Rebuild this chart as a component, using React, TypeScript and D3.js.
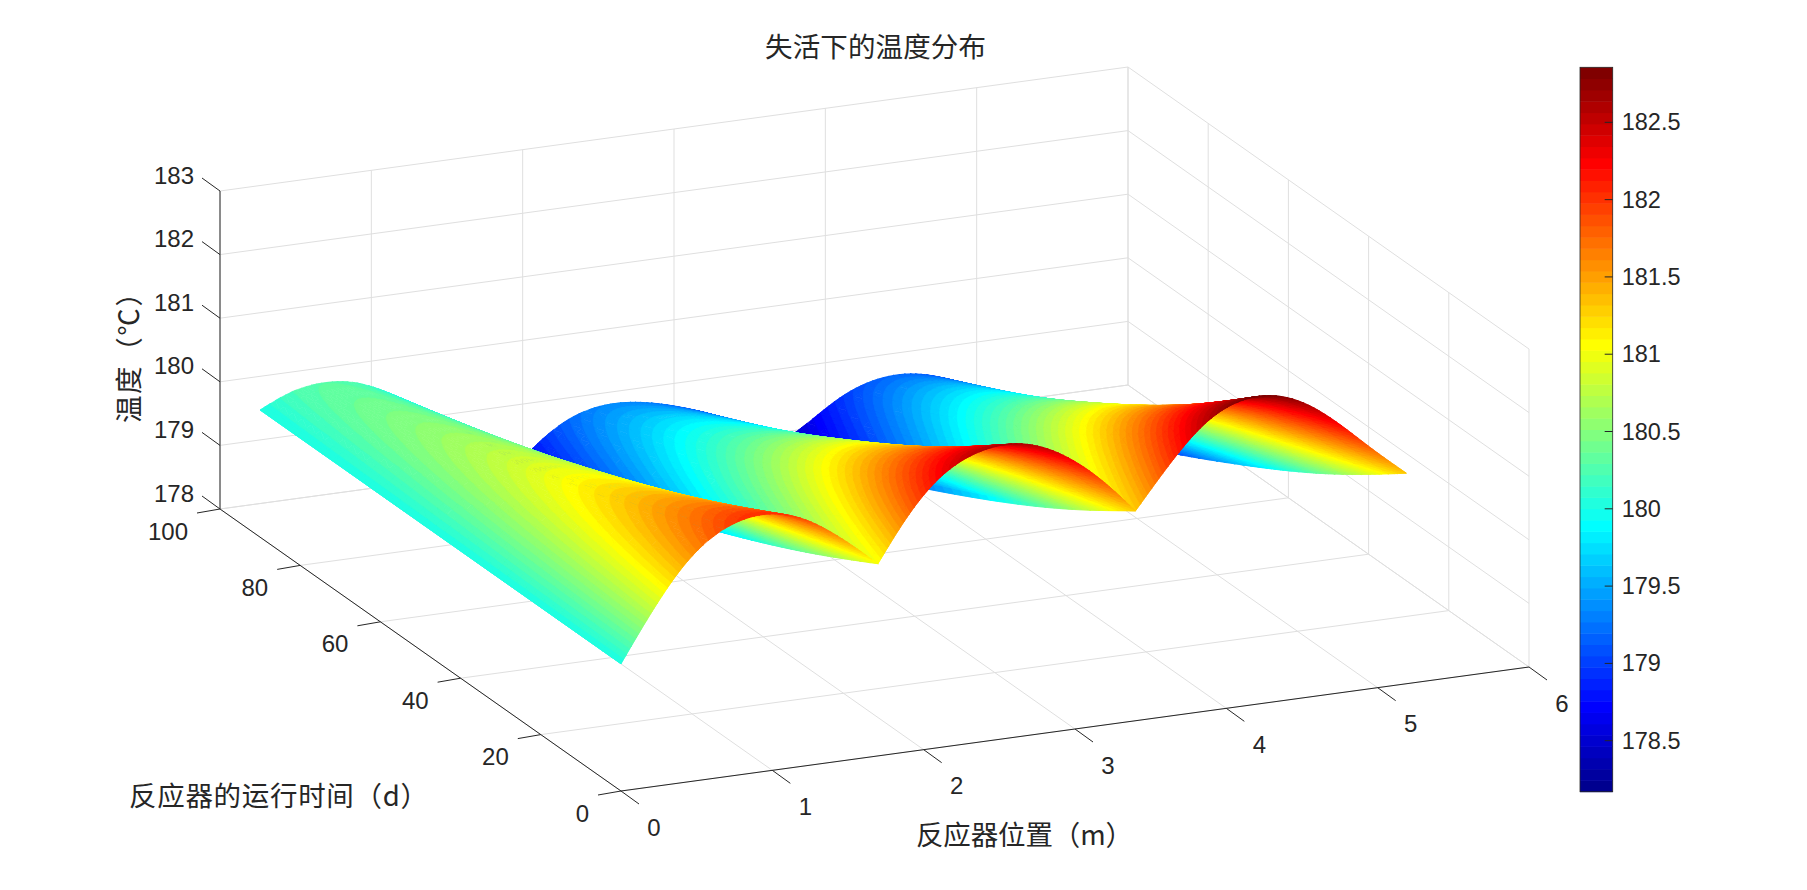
import { useEffect, useRef } from 'react'
import * as d3 from 'd3'

const width = 1807
const height = 890

const titleText = '失活下的温度分布'
const xLabel = '反应器位置（m）'
const yLabel = '反应器的运行时间（d）'
const zLabel = '温度（℃）'

const xTicks = [0, 1, 2, 3, 4, 5, 6]
const tTicks = [0, 20, 40, 60, 80, 100]
const zTicks = [178, 179, 180, 181, 182, 183]
const barTicks = [178.5, 179, 179.5, 180, 180.5, 181, 181.5, 182, 182.5]
const barDomain = [178.17, 182.856]

// rows of the bed tables, in days
const tDays = [0, 15, 30, 45, 60, 75, 90]

const bedRanges = [
  [0, 1.7],
  [1.7, 3.4],
  [3.4, 5.19],
]

const bed1 = [
  [180.0, 180.8, 181.48, 181.88, 182.06, 182.04, 181.82, 181.45, 181.02],
  [180.0, 180.68, 181.22, 181.52, 181.61, 181.53, 181.28, 180.91, 180.49],
  [180.0, 180.57, 181.0, 181.21, 181.22, 181.08, 180.81, 180.45, 180.03],
  [180.0, 180.48, 180.8, 180.93, 180.87, 180.68, 180.39, 180.03, 179.62],
  [180.0, 180.39, 180.61, 180.67, 180.54, 180.31, 180.0, 179.64, 179.23],
  [180.0, 180.32, 180.46, 180.45, 180.26, 179.99, 179.66, 179.31, 178.9],
  [180.0, 180.25, 180.31, 180.25, 180.0, 179.7, 179.35, 179.0, 178.6],
]
const bed2 = [
  [181.03, 181.8, 182.32, 182.57, 182.65, 182.55, 182.27, 181.85, 181.3],
  [180.5, 181.18, 181.64, 181.86, 181.92, 181.82, 181.56, 181.17, 180.67],
  [180.03, 180.65, 181.06, 181.25, 181.29, 181.18, 180.94, 180.59, 180.13],
  [179.62, 180.18, 180.53, 180.7, 180.72, 180.62, 180.39, 180.07, 179.65],
  [179.23, 179.75, 180.06, 180.19, 180.18, 180.07, 179.85, 179.57, 179.19],
  [178.9, 179.38, 179.67, 179.76, 179.73, 179.6, 179.4, 179.14, 178.81],
  [178.6, 179.05, 179.3, 179.36, 179.3, 179.16, 178.98, 178.74, 178.45],
]
const bed3 = [
  [181.3, 181.97, 182.55, 182.83, 182.86, 182.66, 182.25, 181.75, 181.31],
  [180.64, 181.23, 181.77, 182.03, 182.05, 181.87, 181.49, 181.04, 180.61],
  [180.07, 180.6, 181.09, 181.33, 181.36, 181.18, 180.84, 180.42, 180.01],
  [179.56, 180.03, 180.49, 180.71, 180.74, 180.57, 180.25, 179.87, 179.48],
  [179.08, 179.49, 179.92, 180.13, 180.15, 179.99, 179.7, 179.35, 178.97],
  [178.68, 179.04, 179.44, 179.64, 179.66, 179.5, 179.23, 178.91, 178.54],
  [178.3, 178.62, 179.0, 179.18, 179.2, 179.05, 178.8, 178.5, 178.15],
]
const beds = [bed1, bed2, bed3]

// MATLAB jet(64)
function jetColors() {
  const n = 16
  const u: number[] = []
  for (let i = 1; i <= n; i++) u.push(i / n)
  for (let i = 0; i < n - 1; i++) u.push(1)
  for (let i = n; i >= 1; i--) u.push(i / n)
  const rgb = d3.range(64).map(() => [0, 0, 0])
  u.forEach((v, i) => {
    const g = 8 + i
    const r = g + n
    const b = g - n
    if (r < 64) rgb[r][0] = v
    if (g < 64) rgb[g][1] = v
    if (b >= 0) rgb[b][2] = v
  })
  return rgb.map(([r, g, b]) => d3.rgb(r * 255, g * 255, b * 255).formatHex())
}

type P3 = [number, number, number]

// keep the part of a polygon on one side of a temperature level
function clipZ(poly: P3[], level: number, keepAbove: boolean) {
  const out: P3[] = []
  poly.forEach((a, i) => {
    const b = poly[(i + 1) % poly.length]
    const ina = keepAbove ? a[2] >= level : a[2] <= level
    const inb = keepAbove ? b[2] >= level : b[2] <= level
    if (ina) out.push(a)
    if (ina !== inb) {
      const f = (level - a[2]) / (b[2] - a[2])
      out.push([a[0] + f * (b[0] - a[0]), a[1] + f * (b[1] - a[1]), level])
    }
  })
  return out
}

const App = () => {
  const svgRef = useRef<SVGSVGElement>(null)

  useEffect(() => {
    const svg = d3.select(svgRef.current)
    svg.selectAll('*').remove()

    const ink = '#262626'
    const gridColor = '#dfdfdf'
    const numFont = '"Liberation Sans", Arial, sans-serif'
    const cjkFont = '"Noto Sans CJK SC", "Liberation Sans", sans-serif'

    // oblique projection of the plot box, taken from its corners
    const xPx = d3.scaleLinear().domain([0, 6]).range([0, 908])
    const xPy = d3.scaleLinear().domain([0, 6]).range([0, -124])
    const tPx = d3.scaleLinear().domain([0, 100]).range([0, -401])
    const tPy = d3.scaleLinear().domain([0, 100]).range([0, -282])
    const zPy = d3.scaleLinear().domain([178, 183]).range([0, -318])
    const project = (x: number, t: number, z: number): [number, number] => [
      621 + xPx(x) + tPx(t),
      791 + xPy(x) + tPy(t) + zPy(z),
    ]
    const depth = (x: number, t: number, z: number) =>
      (127518 * x) / 6 + (288744 * t) / 100 - (305780 * (z - 178)) / 5

    const jet = jetColors()
    const color = d3.scaleQuantize<string>().domain(barDomain).range(jet)

    const seg = (
      g: d3.Selection<any, any, any, any>,
      a: [number, number],
      b: [number, number],
      stroke: string,
      w = 1,
    ) =>
      g
        .append('line')
        .attr('x1', a[0])
        .attr('y1', a[1])
        .attr('x2', b[0])
        .attr('y2', b[1])
        .attr('stroke', stroke)
        .attr('stroke-width', w)

    // grid on floor and back walls
    const grid = svg.append('g')
    xTicks.forEach((x) => {
      seg(grid, project(x, 0, 178), project(x, 100, 178), gridColor)
      seg(grid, project(x, 100, 178), project(x, 100, 183), gridColor)
    })
    tTicks.forEach((t) => {
      seg(grid, project(0, t, 178), project(6, t, 178), gridColor)
      seg(grid, project(6, t, 178), project(6, t, 183), gridColor)
    })
    zTicks.forEach((z) => {
      seg(grid, project(0, 100, z), project(6, 100, z), gridColor)
      seg(grid, project(6, 100, z), project(6, 0, z), gridColor)
    })

    // surface: resampled per bed so the cusps stay sharp, triangles cut along
    // the 64 colour levels so the bands have clean edges
    const nT = 40
    const nX = 50
    type Piece = { pts: [number, number][]; fill: string; d: number; order: number }
    const pieces: Piece[] = []
    const tMax = d3.max(tDays) as number
    const [zLo, zHi] = barDomain
    const levelStep = (zHi - zLo) / jet.length
    const addTriangle = (tri: P3[]) => {
      const zs = tri.map((p) => p[2])
      const zMean = d3.mean(zs) as number
      const d = depth(d3.mean(tri, (p) => p[0]) as number, d3.mean(tri, (p) => p[1]) as number, zMean)
      const first = Math.max(0, Math.floor(((d3.min(zs) as number) - zLo) / levelStep))
      const last = Math.min(jet.length - 1, Math.floor(((d3.max(zs) as number) - zLo) / levelStep))
      // plain triangle underneath the cut pieces, so no pinholes show
      pieces.push({ pts: tri.map((p) => project(p[0], p[1], p[2])), fill: color(zMean), d, order: pieces.length })
      if (first === last) return
      for (let l = first; l <= last; l++) {
        const poly = clipZ(clipZ(tri, zLo + l * levelStep, true), zLo + (l + 1) * levelStep, false)
        if (poly.length > 2) {
          pieces.push({ pts: poly.map((p) => project(p[0], p[1], p[2])), fill: jet[l], d, order: pieces.length })
        }
      }
    }
    beds.forEach((bed, b) => {
      const [x0, x1] = bedRanges[b]
      const columns = d3.range(bed[0].length).map((j) => d3.interpolateBasis(bed.map((row) => row[j])))
      const samples = d3.range(nT + 1).map((i) => {
        const profile = d3.interpolateBasis(columns.map((c) => c(i / nT)))
        return d3.range(nX + 1).map((k) => profile(k / nX))
      })
      for (let i = 0; i < nT; i++) {
        const t0 = (i / nT) * tMax
        const t1 = ((i + 1) / nT) * tMax
        for (let k = 0; k < nX; k++) {
          const xa = x0 + ((x1 - x0) * k) / nX
          const xb = x0 + ((x1 - x0) * (k + 1)) / nX
          const p00: P3 = [xa, t0, samples[i][k]]
          const p10: P3 = [xb, t0, samples[i][k + 1]]
          const p11: P3 = [xb, t1, samples[i + 1][k + 1]]
          const p01: P3 = [xa, t1, samples[i + 1][k]]
          addTriangle([p00, p10, p11])
          addTriangle([p00, p11, p01])
        }
      }
    })
    pieces.sort((a, b) => b.d - a.d || a.order - b.order)
    const line = d3.line()
    svg
      .append('g')
      .attr('stroke-linejoin', 'round')
      .selectAll('path')
      .data(pieces)
      .join('path')
      .attr('d', (c) => line(c.pts) + 'Z')
      .attr('fill', (c) => c.fill)
      .attr('stroke', (c) => c.fill)
      .attr('stroke-width', 0.6)

    // axis lines, ticks, tick labels
    const axes = svg.append('g')
    seg(axes, project(0, 100, 178), project(0, 100, 183), ink)
    seg(axes, project(0, 0, 178), project(0, 100, 178), ink)
    seg(axes, project(0, 0, 178), project(6, 0, 178), ink)

    const label = (pos: [number, number], text: string, anchor: string) =>
      axes
        .append('text')
        .attr('x', pos[0])
        .attr('y', pos[1])
        .attr('text-anchor', anchor)
        .attr('dominant-baseline', 'central')
        .attr('font-family', numFont)
        .attr('font-size', 24)
        .attr('fill', ink)
        .text(text)

    zTicks.forEach((z) => {
      const p = project(0, 100, z)
      seg(axes, p, [p[0] - 18, p[1] - 13], ink)
      label([p[0] - 26, p[1] - 16], String(z), 'end')
    })
    tTicks.forEach((t) => {
      const p = project(0, t, 178)
      seg(axes, p, [p[0] - 23, p[1] + 4], ink)
      label([p[0] - 32, p[1] + 22], String(t), 'end')
    })
    xTicks.forEach((x) => {
      const p = project(x, 0, 178)
      seg(axes, p, [p[0] + 18, p[1] + 13], ink)
      label([p[0] + 33, p[1] + 36], String(x), 'middle')
    })

    // colour bar
    const barX = 1580
    const barW = 32.7
    const barTop = 67.3
    const barBottom = 791.7
    const barY = d3.scaleLinear().domain(barDomain).range([barBottom, barTop])
    const bar = svg.append('g')
    bar
      .selectAll('rect')
      .data(jet)
      .join('rect')
      .attr('x', barX)
      .attr('width', barW)
      .attr('y', (c) => barY(color.invertExtent(c)[1] as number))
      .attr('height', (c) => barY(color.invertExtent(c)[0] as number) - barY(color.invertExtent(c)[1] as number) + 0.5)
      .attr('fill', (c) => c)
    bar
      .append('rect')
      .attr('x', barX)
      .attr('y', barTop)
      .attr('width', barW)
      .attr('height', barBottom - barTop)
      .attr('fill', 'none')
      .attr('stroke', ink)
      .attr('stroke-width', 0.8)
    barTicks.forEach((v) => {
      seg(bar, [barX + barW - 8, barY(v)], [barX + barW, barY(v)], ink)
      bar
        .append('text')
        .attr('x', barX + barW + 9)
        .attr('y', barY(v))
        .attr('dominant-baseline', 'central')
        .attr('font-family', numFont)
        .attr('font-size', 23.5)
        .attr('fill', ink)
        .text(v)
    })

    // title and axis labels
    const cjk = (x: number, y: number, text: string, size: number, length: number) =>
      svg
        .append('text')
        .attr('x', x)
        .attr('y', y)
        .attr('font-family', cjkFont)
        .attr('font-size', size)
        .attr('fill', ink)
        .attr('dominant-baseline', 'central')
        .attr('textLength', length)
        .text(text)

    cjk(765, 45, titleText, 27.5, 221)
    cjk(916, 833, xLabel, 27.5, 217)
    cjk(129, 794, yLabel, 27.5, 299)
    cjk(127, 423, zLabel, 27.5, 144).attr('transform', 'rotate(-90 127 423)')
  }, [])

  return (
    <svg
      ref={svgRef}
      width={width}
      height={height}
      style={{ position: 'absolute', left: 0, top: 0, background: '#fff' }}
    />
  )
}

export default App
